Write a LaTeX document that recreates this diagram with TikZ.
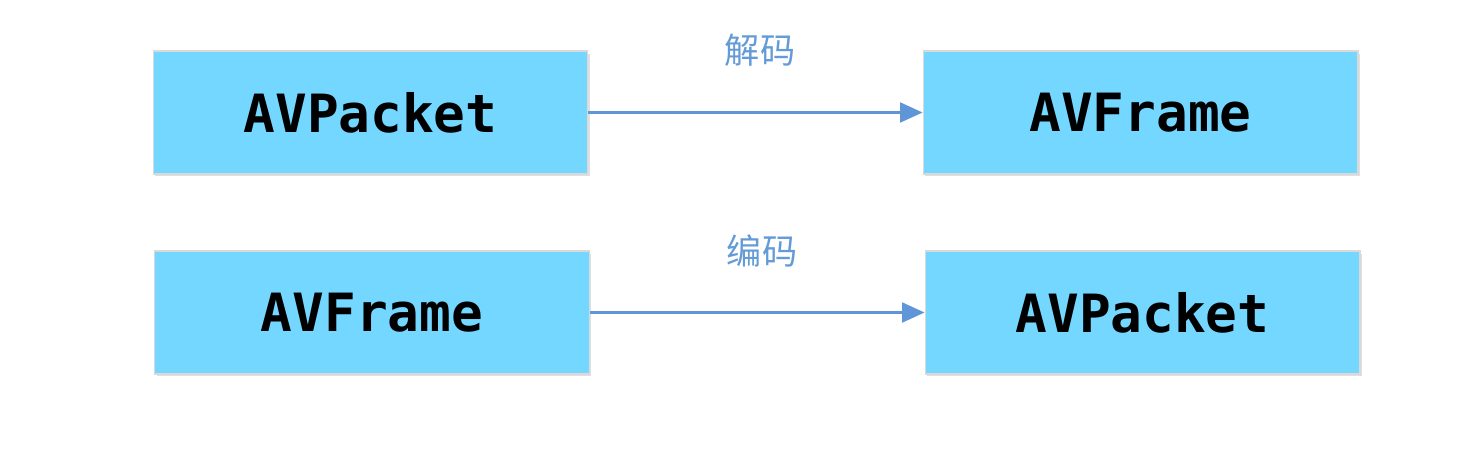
\documentclass[tikz,border=0pt]{standalone}
\usepackage{fontspec}
\newfontfamily\cjk{Noto Sans CJK SC}
\newfontfamily\boxfont{DejaVu Sans Mono}
\usetikzlibrary{arrows.meta,shadows}
\definecolor{boxc}{RGB}{115,215,255}
\definecolor{arrc}{RGB}{95,150,215}
\definecolor{labc}{RGB}{100,155,215}
\tikzset{
  px/.style={x=0.02cm,y=-0.02cm},
  boxn/.style={draw=black!15,line width=0.6pt,fill=boxc,minimum width=8.7cm,minimum height=2.46cm,inner sep=0pt,
    font=\boxfont\bfseries\fontsize{30}{32}\selectfont,drop shadow={shadow xshift=0.04cm,shadow yshift=-0.05cm,opacity=0.25}},
  arr/.style={draw=arrc,line width=1.2pt,-{Triangle[length=0.45cm,width=0.4cm]}},
  lab/.style={font=\cjk\fontsize{20}{22}\selectfont,text=labc}
}
\begin{document}
\begin{tikzpicture}[px]
\useasboundingbox (0,0) rectangle (1473,450);
\node[boxn] (a) at (370.5,112.5) {AVPacket};
\node[boxn] (b) at (1140.5,112.5) {AVFrame};
\node[boxn] (c) at (372,312.5) {AVFrame};
\node[boxn] (d) at (1142.5,312.5) {AVPacket};
\draw[arr] (a) -- (b);
\draw[arr] (c) -- (d);
\node[lab] (l1) at (760,50) {解码};
\node[lab] (l2) at (762,251) {编码};
\end{tikzpicture}
\end{document}
